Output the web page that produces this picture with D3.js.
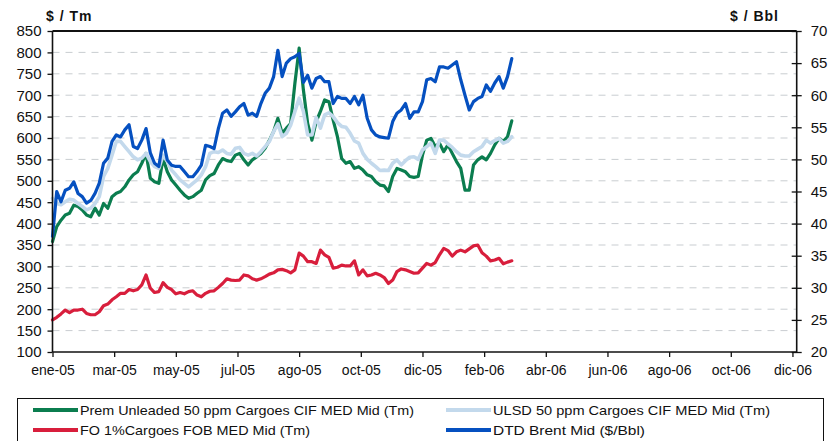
<!DOCTYPE html>
<html><head><meta charset="utf-8">
<script src="https://cdn.jsdelivr.net/npm/d3@7"></script>
<style>
body{margin:0;background:#fff}
svg{display:block;font-family:"Liberation Sans",Arial,sans-serif}
</style>
</head><body>
<svg id="chart" width="830" height="441"></svg>
<script>
// ---------- data ----------
const tickLabels = ["ene-05","mar-05","may-05","jul-05","ago-05","oct-05","dic-05","feb-06","abr-06","jun-06","ago-06","oct-06","dic-06"];
const leftTickValues = [100,150,200,250,300,350,400,450,500,550,600,650,700,750,800,850];
const rightTickValues = [20,25,30,35,40,45,50,55,60,65,70];
const seriesNames = ["Prem Unleaded 50 ppm Cargoes CIF MED Mid (Tm)","ULSD 50 ppm Cargoes CIF MED Mid (Tm)","FO 1%Cargoes FOB MED Mid (Tm)","DTD Brent Mid ($/Bbl)"];

// sampled every 4 days starting 10-Jan-2005
const premUnleaded = [358,393,408,420,424,443,440,432,420,416,436,420,447,436,463,471,475,486,502,514,
521,541,564,506,498,494,552,521,502,490,478,467,459,463,471,478,502,512,517,537,
552,547,545,560,564,549,537,549,556,564,576,595,615,646,611,623,634,728,810,712,
634,595,638,662,689,685,642,603,552,541,545,529,533,525,514,510,498,490,488,475,
510,529,525,521,510,508,510,560,595,599,580,588,568,584,564,545,529,478,478,537,
549,556,549,564,584,599,592,603,640];
const ulsd = [459,447,444,451,457,455,447,440,432,436,447,463,510,529,560,592,592,580,568,556,
549,553,564,545,533,529,560,545,525,514,502,494,486,494,502,514,533,564,568,566,
572,564,562,576,578,564,560,564,558,568,580,592,615,633,603,611,630,662,693,662,
607,607,648,623,654,659,650,636,627,625,611,593,588,564,550,541,533,524,525,524,
541,549,537,547,555,556,550,572,580,588,564,595,595,586,578,568,560,558,558,568,
574,580,595,588,594,599,588,592,603];
const fo1 = [175,181,189,198,192,198,198,200,190,187,187,194,208,212,222,229,237,237,246,243,
246,257,280,249,239,241,262,251,246,236,239,236,241,243,233,229,237,242,243,251,
260,271,268,267,268,280,278,271,268,271,276,282,285,292,293,290,285,292,331,324,
311,311,307,338,327,321,296,298,303,301,301,313,280,292,278,280,284,280,274,260,
268,288,294,292,288,284,285,296,307,303,309,327,342,337,324,334,338,334,341,348,
350,332,324,313,315,319,306,310,313];
const brent = [38.0,45.0,43.4,45.2,45.5,46.5,44.7,44.2,43.2,43.6,44.7,46.3,49.4,50.2,52.8,53.8,53.5,54.6,55.4,52.0,
51.7,53.0,54.8,51.0,49.4,48.9,53.0,49.9,49.1,48.9,48.9,48.1,47.3,47.3,48.1,49.1,52.2,52.0,51.7,54.8,
57.2,57.7,56.7,57.4,58.2,58.7,56.9,57.2,56.7,58.7,60.3,61.1,62.9,67.0,62.9,65.0,65.7,66.0,66.5,62.0,
63.1,61.1,62.6,62.9,62.1,62.1,58.7,59.8,59.5,59.5,58.7,59.8,58.5,60.0,56.4,54.6,53.8,53.5,53.4,53.3,
55.9,57.2,57.7,58.7,56.4,57.4,57.4,59.0,62.4,62.6,62.1,64.4,64.4,64.2,64.7,65.2,62.4,60.0,57.7,59.0,
59.5,59.8,61.6,60.6,61.9,62.9,61.1,62.9,65.7];

const axisStart = new Date(Date.UTC(2005,0,10));
const axisSpanDays = 700, tickStepDays = 58, sampleStepDays = 4;
const dates = premUnleaded.map((_, i) => d3.utcDay.offset(axisStart, i * sampleStepDays));
const tickDates = tickLabels.map((_, k) => d3.utcDay.offset(axisStart, k * tickStepDays));

// ---------- layout ----------
const L = 52.5, R = 796.7, T = 31, B = 352;
const svg = d3.select("#chart");
svg.append("rect").attr("width",830).attr("height",441).attr("fill","#fff");

const x = d3.scaleUtc().domain([axisStart, d3.utcDay.offset(axisStart, axisSpanDays)]).range([L, R]);
const yL = d3.scaleLinear().domain([100, 850]).range([B, T]);
const yR = d3.scaleLinear().domain([20, 70]).range([B, T]);

// gridlines
svg.append("g").selectAll("line").data(leftTickValues.filter(v => v > 100 && v < 850)).join("line")
  .attr("x1", L).attr("x2", R).attr("y1", d => yL(d)).attr("y2", d => yL(d))
  .attr("stroke", "#c9cdd1").attr("stroke-width", 1).attr("stroke-dasharray", "7,6");

// series
const colors = ["#0b7d4f", "#c3d9ec", "#d81e3c", "#0550c0"];
const lineL = d3.line().x((d, i) => x(dates[i])).y(d => yL(d));
const lineR = d3.line().x((d, i) => x(dates[i])).y(d => yR(d));
const plotG = svg.append("g").attr("fill", "none").attr("stroke-linejoin", "round").attr("stroke-linecap", "round");
plotG.append("path").attr("d", lineL(premUnleaded)).attr("stroke", colors[0]).attr("stroke-width", 3.2);
plotG.append("path").attr("d", lineL(ulsd)).attr("stroke", colors[1]).attr("stroke-width", 3.6);
plotG.append("path").attr("d", lineL(fo1)).attr("stroke", colors[2]).attr("stroke-width", 3.2);
plotG.append("path").attr("d", lineR(brent)).attr("stroke", colors[3]).attr("stroke-width", 3.2);

// axes
const axG = svg.append("g").attr("stroke", "#111").attr("fill", "none");
axG.append("line").attr("x1", L).attr("x2", R).attr("y1", T).attr("y2", T).attr("stroke-width", 2);
axG.append("line").attr("x1", L).attr("x2", R).attr("y1", B).attr("y2", B).attr("stroke-width", 1.6);
axG.append("line").attr("x1", L).attr("x2", L).attr("y1", T).attr("y2", B).attr("stroke-width", 1.6);
axG.append("line").attr("x1", R).attr("x2", R).attr("y1", T).attr("y2", B).attr("stroke-width", 1.6);

const leftAxis = d3.axisLeft(yL).tickValues(leftTickValues).tickSize(5).tickPadding(6);
const gl = svg.append("g").attr("transform", `translate(${L},0)`).call(leftAxis);
gl.select(".domain").remove();
gl.selectAll(".tick line").attr("stroke", "#111").attr("stroke-width", 1.3);
gl.selectAll("text").attr("font-size", 15).attr("fill", "#111").attr("font-family", "Liberation Sans, Arial, sans-serif");

const rightAxis = d3.axisRight(yR).tickValues(rightTickValues).tickSize(5).tickPadding(9);
const gr = svg.append("g").attr("transform", `translate(${R},0)`).call(rightAxis);
gr.select(".domain").remove();
gr.selectAll(".tick line").attr("x1", -5).attr("stroke", "#111").attr("stroke-width", 1.3);
gr.selectAll("text").attr("font-size", 15).attr("fill", "#111").attr("font-family", "Liberation Sans, Arial, sans-serif");

const bottomAxis = d3.axisBottom(x).tickValues(tickDates).tickFormat((d, i) => tickLabels[i]).tickSize(5).tickPadding(8);
const gb = svg.append("g").attr("transform", `translate(0,${B})`).call(bottomAxis);
gb.select(".domain").remove();
gb.selectAll(".tick line").attr("stroke", "#111").attr("stroke-width", 1.3);
gb.selectAll("text").attr("font-size", 14).attr("fill", "#111").attr("font-family", "Liberation Sans, Arial, sans-serif");

// axis titles
svg.append("text").attr("x", 46).attr("y", 21).attr("font-size", 14).attr("font-weight", "bold")
  .attr("letter-spacing", 1).attr("fill", "#111").text("$ / Tm");
svg.append("text").attr("x", 730).attr("y", 21).attr("font-size", 14).attr("font-weight", "bold")
  .attr("letter-spacing", 1).attr("fill", "#111").text("$ / Bbl");

// legend
svg.append("rect").attr("x", 17.5).attr("y", 398.5).attr("width", 806).attr("height", 60)
  .attr("fill", "none").attr("stroke", "#111").attr("stroke-width", 1);
const legendPos = [
  {lx: 33, ty: 410, tw: 334}, {lx: 446, ty: 410, tw: 277},
  {lx: 33, ty: 430, tw: 230}, {lx: 446, ty: 430, tw: 152}
];
const lg = svg.append("g");
seriesNames.forEach((name, i) => {
  const p = legendPos[i];
  lg.append("line").attr("x1", p.lx).attr("x2", p.lx + 45).attr("y1", p.ty).attr("y2", p.ty)
    .attr("stroke", colors[i]).attr("stroke-width", 4);
  lg.append("text").attr("x", p.lx + 47).attr("y", p.ty + 4.5).attr("font-size", 13).attr("fill", "#111")
    .attr("textLength", p.tw).attr("lengthAdjust", "spacingAndGlyphs").text(name);
});
</script>
</body></html>
